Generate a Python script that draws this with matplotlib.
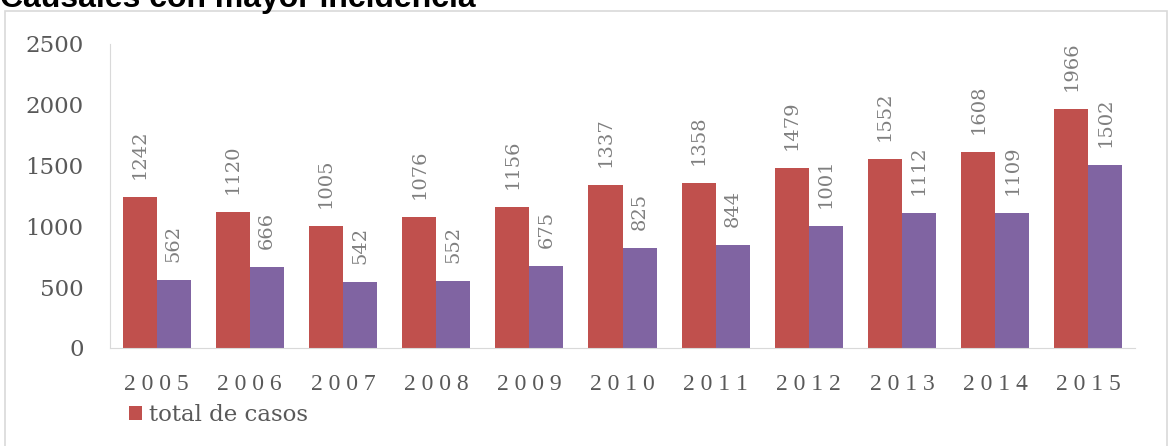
import matplotlib

matplotlib.use("Agg")
import matplotlib.pyplot as plt  # noqa: E402
import numpy as np  # noqa: E402
from matplotlib.patches import Rectangle  # noqa: E402

years = ["2005", "2006", "2007", "2008", "2009", "2010", "2011", "2012", "2013", "2014", "2015"]
total_casos = [1242, 1120, 1005, 1076, 1156, 1337, 1358, 1479, 1552, 1608, 1966]
segunda_serie = [562, 666, 542, 552, 675, 825, 844, 1001, 1112, 1109, 1502]
y_ticks = [0, 500, 1000, 1500, 2000, 2500]

RED = "#C0504D"
PURPLE = "#8064A2"
GRAY = "#595959"
LABEL_GRAY = "#7f7f7f"
SERIF = ["DejaVu Serif"]

fig = plt.figure(figsize=(11.74, 4.46), dpi=100)
W, H = 1174, 446

# chart frame (open at the bottom, like the cropped source)
fig.patches.append(Rectangle((5 / W, -0.01), 1162 / W, 1.01 - 11 / H, transform=fig.transFigure,
                             fill=False, edgecolor="#d9d9d9", linewidth=1.2))

# title, clipped at the top like the source
fig.text(0.0, 1 - 7 / H, "Causales con mayor incidencia", fontsize=23, fontweight="bold",
         family="Liberation Sans", ha="left", va="baseline", color="black")

ax = fig.add_axes([110 / W, 1 - 348 / H, (1135 - 110) / W, (348 - 44) / H])
x = np.arange(len(years))
bw = 0.365
b1 = ax.bar(x - bw / 2, total_casos, bw, color=RED, label="total de casos")
b2 = ax.bar(x + bw / 2, segunda_serie, bw, color=PURPLE)

for bars, vals in ((b1, total_casos), (b2, segunda_serie)):
    for b, v in zip(bars, vals):
        ax.annotate(str(v), (b.get_x() + b.get_width() / 2, v), xytext=(0, 13),
                    textcoords="offset points", rotation=90, ha="center", va="bottom",
                    fontsize=14, color=LABEL_GRAY, family=SERIF)

ax.set_xlim(-0.5, len(years) - 0.5)
ax.set_ylim(0, 2500)
ax.set_yticks(y_ticks)
ax.set_yticklabels([str(t) for t in y_ticks], fontsize=16.5, color=GRAY, family=SERIF)
ax.set_xticks(x)
ax.set_xticklabels([" ".join(y) for y in years], fontsize=17, color=GRAY,
                   family="Liberation Serif")
ax.tick_params(axis="both", length=0)
ax.tick_params(axis="y", pad=19)
ax.tick_params(axis="x", pad=19)
for side in ("top", "right"):
    ax.spines[side].set_visible(False)
ax.spines["left"].set_color("#d9d9d9")
ax.spines["bottom"].set_color("#d9d9d9")

leg = fig.legend(handles=[b1], loc="center left", bbox_to_anchor=(108 / W, 1 - 415 / H),
                 frameon=False, prop={"family": SERIF, "size": 16.5},
                 handlelength=0.6, handleheight=0.6, handletextpad=0.3)
for t in leg.get_texts():
    t.set_color(GRAY)

fig.savefig("out.png", dpi=100)
